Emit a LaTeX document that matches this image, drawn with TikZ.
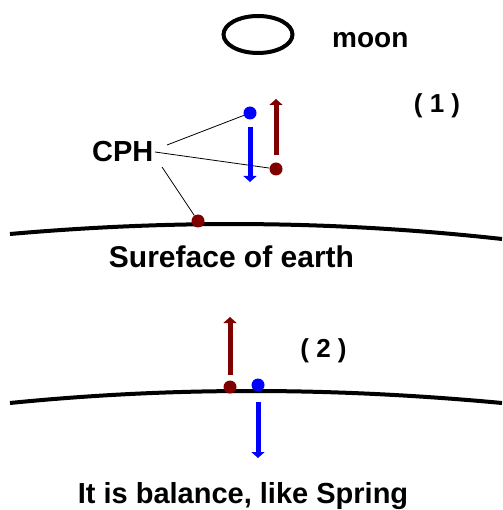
\documentclass[tikz,border=0pt]{standalone}
\usepackage{fontspec}
\setmainfont{Liberation Sans}
\usetikzlibrary{arrows.meta,positioning,shapes.geometric,calc}
\definecolor{darkred}{HTML}{800000}

\begin{document}
\begin{tikzpicture}[x=1pt, y=-1pt,
		every node/.style={font=\fontsize{28}{30}\bfseries\selectfont, inner sep=0pt},
		dotred/.style={circle, fill=darkred, minimum size=13pt},
		dotblue/.style={circle, fill=blue, minimum size=13pt},
		force/.style={line width=5pt, -{Triangle[width=13pt,length=6pt]}},
		earth/.style={line width=4pt},
		pointer/.style={line width=0.8pt}]
	\useasboundingbox (0,0) rectangle (502,510);
	% moon
	\draw[line width=4pt] (258,34.5) ellipse (34.5 and 18.5);
	\node[anchor=base west] (moon) at (332,48) {moon};
	% case (1)
	\node[anchor=base] (lab1) at (437,113) {\fontsize{26}{28}\selectfont ( 1 )};
	\draw[earth] (10,234) .. controls (170,220) and (330,220) .. (502,239);
	\node[dotblue] (b1) at (250,113) {};
	\node[dotred] (r1) at (276,169) {};
	\node[dotred] (s1) at (198,221) {};
	\coordinate (b1top) at (250,127);
	\coordinate (b1end) at (250,182);
	\coordinate (r1bot) at (276,155);
	\coordinate (r1end) at (276,99);
	\draw[force, blue] (b1top) -- (b1end);
	\draw[force, darkred] (r1bot) -- (r1end);
	\node[anchor=base west] (cph) at (92,162) {\fontsize{29}{30}\selectfont CPH};
	\draw[pointer] (167,145) -- (b1);
	\draw[pointer] (155,152) -- (r1);
	\draw[pointer] (162,167) -- (s1);
	\node[anchor=base] (surf) at (231.5,267) {\fontsize{30}{32}\selectfont Sureface of earth};
	% case (2)
	\node[anchor=base] (lab2) at (323.5,357) {\fontsize{26}{28}\selectfont ( 2 )};
	\draw[earth] (10,403) .. controls (170,387) and (330,387) .. (502,403);
	\node[dotred] (r2) at (230,387) {};
	\node[dotblue] (b2) at (258,385) {};
	\coordinate (r2bot) at (230,375);
	\coordinate (r2end) at (230,317);
	\coordinate (b2top) at (258,402);
	\coordinate (b2end) at (258,458);
	\draw[force, darkred] (r2bot) -- (r2end);
	\draw[force, blue] (b2top) -- (b2end);
	\node[anchor=base] (spring) at (243,503) {\fontsize{29}{31}\selectfont It is balance, like Spring};
\end{tikzpicture}
\end{document}
